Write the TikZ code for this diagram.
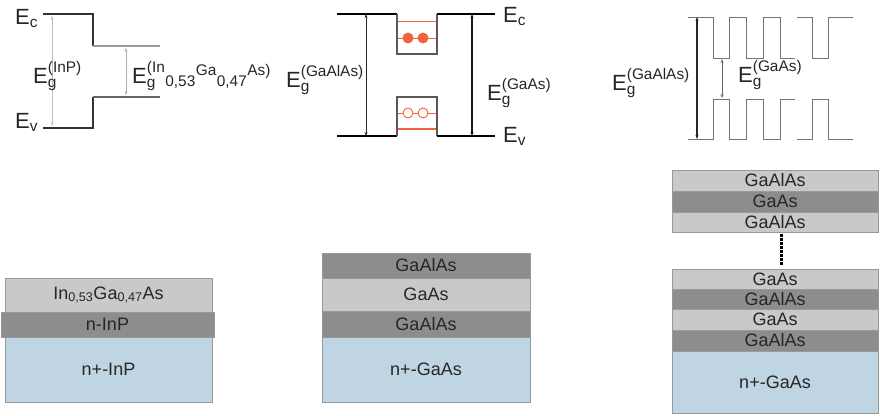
\documentclass[tikz,border=0pt]{standalone}
\usepackage{amsmath}
\usepackage{fontspec}
\setmainfont{Liberation Sans}
\usetikzlibrary{arrows.meta}
\definecolor{layerlight}{HTML}{C9C9CA}
\definecolor{layerdark}{HTML}{8D8D90}
\definecolor{substrate}{HTML}{BFD5E3}
\definecolor{bandorange}{HTML}{F0643C}
\newcommand{\Egap}[1]{$\text{E}_{\text{g}}^{\text{(#1)}}$}

\begin{document}
\begin{tikzpicture}[x=1pt,y=-1pt,>={Stealth[length=4pt,width=3pt]},
  lbl/.style={font=\fontsize{22}{25}\selectfont,text=black!85,inner sep=0pt,anchor=base west},
  layer/.style={draw=black!40,line width=0.4pt,inner sep=0pt,text=black!85,
    font=\fontsize{18}{20}\selectfont},
  edge/.style={black!80,line width=1.1pt},
  paleedge/.style={black!40,line width=1.1pt},
  sl/.style={black!55,line width=1pt}]
  \useasboundingbox (0,0) rectangle (880,415);

  % --- InP / InGaAs band edges
  \draw[edge] (43,14)--(93,14)--(93,46);
  \draw[paleedge] (93,46)--(160,46);
  \draw[edge] (43,128)--(93,128)--(93,97);
  \draw[black!60,line width=1.1pt] (93,97)--(160,97);
  \coordinate (inp c) at (52,16);  \coordinate (inp v) at (52,126);
  \coordinate (iga c) at (126,48); \coordinate (iga v) at (126,95);
  \draw[<->,black!25,line width=0.8pt] (inp c)--(inp v);
  \draw[<->,black!30,line width=0.8pt] (iga c)--(iga v);
  \node[lbl] (ec1) at (15,24) {$\text{E}_{\text{c}}$};
  \node[lbl] (ev1) at (15,128) {$\text{E}_{\text{v}}$};
  \node[lbl] (eginp) at (33,83) {\Egap{InP}};
  \node[lbl] (egiga) at (132,83)
    {$\text{E}_{\text{g}}^{\text{(In}}{}_{\text{0,53}}{}^{\text{Ga}}{}_{\text{0,47}}{}^{\text{As)}}$};

  % --- single quantum well
  \draw[black,line width=1.3pt] (337,14)--(397,14);
  \draw[black!65,line width=1.2pt] (397,14)--(397,54)--(437,54)--(437,14);
  \draw[black,line width=1.3pt] (437,14)--(495,14);
  \draw[black,line width=1.3pt] (337,136)--(397,136);
  \draw[black!65,line width=1.2pt] (397,136)--(397,97)--(437,97)--(437,136);
  \draw[black,line width=1.3pt] (437,136)--(495,136);
  % confined levels
  \draw[bandorange,line width=0.9pt] (398,21)--(436,21);
  \draw[bandorange,line width=1pt] (398,38)--(436,38);
  \draw[bandorange,line width=1pt] (398,113)--(436,113);
  \draw[bandorange,line width=1.2pt] (398,129)--(436,129);
  \fill[bandorange] (408,38) circle (5.5) (423,38) circle (5.5);
  \draw[bandorange,line width=0.9pt,fill=white] (408,113) circle (5) (423,113) circle (5);
  \coordinate (qw1 c) at (366,14);  \coordinate (qw1 v) at (366,136);
  \coordinate (qw2 c) at (472,14);  \coordinate (qw2 v) at (472,136);
  \draw[<->,black!85,line width=0.9pt] (qw1 c)--(qw1 v);
  \draw[<->,black!90,line width=1.4pt] (qw2 c)--(qw2 v);
  \node[lbl] (ec2) at (503,22) {$\text{E}_{\text{c}}$};
  \node[lbl] (ev2) at (503,142) {$\text{E}_{\text{v}}$};
  \node[lbl] (egalas2) at (286,87) {\Egap{GaAlAs}};
  \node[lbl] (eggaas2) at (487,100) {\Egap{GaAs}};

  % --- superlattice
  \draw[sl] (688,17)--(713,17)--(713,58)--(729,58)--(729,17)--(746,17)--(746,58)
    --(763,58)--(763,17)--(780,17)--(780,58)--(795,58);
  \draw[sl] (797,17)--(812,17)--(812,58)--(828,58)--(828,17)--(853,17);
  \draw[sl] (688,139)--(713,139)--(713,99)--(729,99)--(729,139)--(746,139)--(746,99)
    --(763,99)--(763,139)--(780,139)--(780,99)--(795,99);
  \draw[sl] (797,139)--(812,139)--(812,99)--(828,99)--(828,139)--(853,139);
  \coordinate (sl c) at (697,17);  \coordinate (sl v) at (697,139);
  \coordinate (slw c) at (722,59); \coordinate (slw v) at (722,98);
  \draw[<->,black!85,line width=1.2pt] (sl c)--(sl v);
  \draw[<->,black!60,line width=0.8pt] (slw c)--(slw v);
  \node[lbl] (egalas3) at (612,90) {\Egap{GaAlAs}};
  \node[lbl] (eggaas3) at (738,82) {\Egap{GaAs}};

  % --- layer stacks
  \node[layer,fill=layerlight,minimum width=207pt,minimum height=34pt] (iga) at (108.5,295)
    {In\textsubscript{0,53}Ga\textsubscript{0,47}As};
  \node[layer,fill=layerdark,minimum width=213pt,minimum height=25pt] (ninp) at (107.5,324.5) {n-InP};
  \node[layer,fill=substrate,minimum width=207pt,minimum height=65pt] (npinp) at (108.5,369.5) {n+-InP};

  \node[layer,fill=layerdark,minimum width=208pt,minimum height=25pt] (qwtop) at (426,265.5) {GaAlAs};
  \node[layer,fill=layerlight,minimum width=208pt,minimum height=33pt] (qwmid) at (426,294.5) {GaAs};
  \node[layer,fill=layerdark,minimum width=208pt,minimum height=26pt] (qwbot) at (426,324) {GaAlAs};
  \node[layer,fill=substrate,minimum width=208pt,minimum height=65pt] (qwsub) at (426,369.5) {n+-GaAs};

  \node[layer,fill=layerlight,minimum width=206pt,minimum height=21pt] (sl1) at (775,180.5) {GaAlAs};
  \node[layer,fill=layerdark,minimum width=206pt,minimum height=21pt] (sl2) at (775,201.5) {GaAs};
  \node[layer,fill=layerlight,minimum width=206pt,minimum height=20pt] (sl3) at (775,222) {GaAlAs};
  \node[layer,fill=layerlight,minimum width=206pt,minimum height=20pt] (sl4) at (775,279) {GaAs};
  \node[layer,fill=layerdark,minimum width=206pt,minimum height=20pt] (sl5) at (775,299) {GaAlAs};
  \node[layer,fill=layerlight,minimum width=206pt,minimum height=21pt] (sl6) at (775,319.5) {GaAs};
  \node[layer,fill=layerdark,minimum width=206pt,minimum height=21pt] (sl7) at (775,340.5) {GaAlAs};
  \node[layer,fill=substrate,minimum width=206pt,minimum height=62pt] (slsub) at (775,382) {n+-GaAs};
  % repeat marker
  \coordinate (dots top) at (781,234); \coordinate (dots bot) at (781,266);
  \draw[black,line width=3pt,dash pattern=on 2.5pt off 1.5pt] (dots top)--(dots bot);
\end{tikzpicture}
\end{document}
